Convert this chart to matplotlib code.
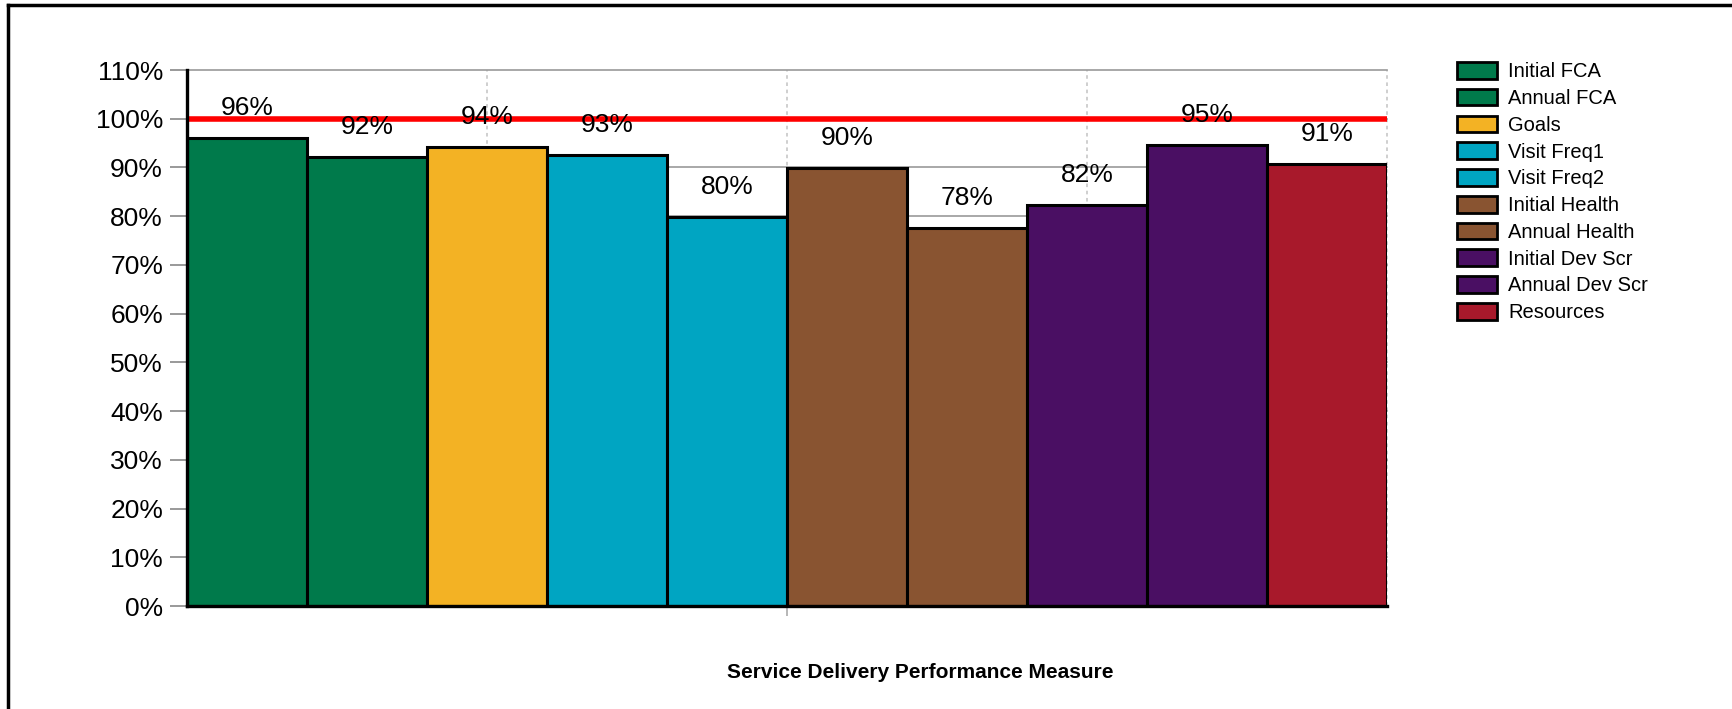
import matplotlib
matplotlib.use("Agg")
import matplotlib.pyplot as plt
from matplotlib.patches import Patch
from matplotlib.lines import Line2D

plt.rcParams['font.family'] = ['Liberation Sans', 'DejaVu Sans']

categories = ["Initial FCA", "Annual FCA", "Goals", "Visit Freq1", "Visit Freq2",
              "Initial Health", "Annual Health", "Initial Dev Scr", "Annual Dev Scr", "Resources"]
values = [96.1, 92.1, 94.1, 92.6, 79.8, 89.8, 77.6, 82.3, 94.6, 90.7]
colors = ["#007A4B", "#007A4B", "#F3B224", "#00A5C2", "#00A5C2",
          "#895431", "#895431", "#4A0F63", "#4A0F63", "#A8192B"]
target = 100
yticks = list(range(0, 111, 10))
ytick_labels = [f"{t}%" for t in yticks]
xlabel = "Service Delivery Performance Measure"

W, H = 1732, 709
fig = plt.figure(figsize=(W / 100, H / 100), dpi=100)
ax = fig.add_axes([187 / W, 1 - 606 / H, 1200 / W, 536 / H])

n = len(values)
xs = [i + 0.5 for i in range(n)]
ax.bar(xs, values, width=1.0, color=colors, edgecolor="black", linewidth=2.2, zorder=3)

ax.set_xlim(0, n)
ax.set_ylim(0, 110)
ax.set_yticks(yticks)
ax.set_yticklabels(ytick_labels, fontsize=19)
ax.tick_params(axis='y', length=12.2, width=1.2, color="#888888", pad=5)

# x ticks / vertical dotted grid
ax.set_xticks([n / 2])
ax.set_xticklabels([""])
ax.tick_params(axis='x', length=7, width=1.2, color="#aaaaaa")
for gx in [n / 4, n / 2, 3 * n / 4, n]:
    ax.axvline(gx, color="#cccccc", linestyle=(0, (2, 2)), linewidth=1.3, zorder=1, clip_on=False)

# horizontal grid
for gy in yticks[1:]:
    ax.axhline(gy, color="#999999", linewidth=1.2, zorder=1, clip_on=False)

ax.axhline(target, color="#FF0000", linewidth=4, zorder=4)

for x, v in zip(xs, values):
    ax.annotate(f"{v:.0f}%", xy=(x, v), xytext=(0, 21.6), textcoords="offset points",
                ha="center", va="center", fontsize=19, zorder=5)

for s in ["top", "right"]:
    ax.spines[s].set_visible(False)
ax.spines["left"].set_linewidth(2.4)
ax.spines["bottom"].set_linewidth(2.4)
ax.spines["left"].set_zorder(6)
ax.spines["bottom"].set_zorder(6)

handles = [Patch(facecolor=c, edgecolor="black", linewidth=2) for c in colors]
fig.legend(handles, categories, loc="upper left", bbox_to_anchor=(1457 / W, 1 - 62 / H),
           frameon=False, fontsize=14.5, handlelength=2.0, handleheight=0.9,
           handletextpad=0.55, labelspacing=0.37, borderpad=0, borderaxespad=0)

fig.text(920 / W, 1 - 672 / H, xlabel, ha="center", va="center", fontsize=15, fontweight="bold")

# outer frame (top and left edges visible)
fig.add_artist(Line2D([8 / W, 1.0], [1 - 5 / H, 1 - 5 / H], color="black", linewidth=2.5,
                      transform=fig.transFigure))
fig.add_artist(Line2D([8 / W, 8 / W], [1 - 5 / H, 0.0], color="black", linewidth=2.5,
                      transform=fig.transFigure))

fig.savefig("out.png", dpi=100)
